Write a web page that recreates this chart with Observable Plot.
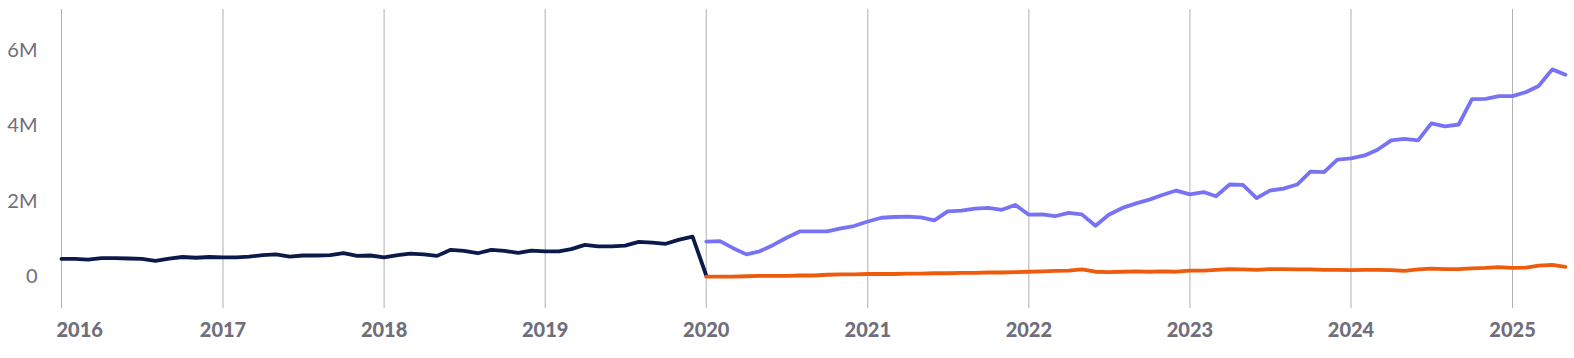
<!DOCTYPE html>
<html><head><meta charset="utf-8">
<script src="https://cdn.jsdelivr.net/npm/d3@7"></script>
<script src="https://cdn.jsdelivr.net/npm/@observablehq/plot@0.6"></script>
<style>body{margin:0;background:#fff}</style>
</head><body><div id="chart"></div>
<script>
// Monthly values, in millions
const navyStart = "2016-01-01";
const navyValues = [
  0.48,0.48,0.46,0.50,0.50,0.49,0.48,0.43,0.49,0.53,0.51,0.53,
  0.52,0.52,0.54,0.58,0.60,0.54,0.57,0.57,0.58,0.63,0.56,0.57,
  0.52,0.58,0.62,0.60,0.56,0.72,0.69,0.63,0.72,0.69,0.64,0.70,
  0.68,0.68,0.74,0.85,0.81,0.81,0.83,0.93,0.91,0.88,0.99,1.07,
  0.04
];
const seriesStart = "2020-01-01";
const purpleValues = [
  0.94,0.95,0.77,0.60,0.68,0.85,1.04,1.21,1.21,1.21,1.29,1.35,
  1.47,1.57,1.59,1.60,1.58,1.50,1.74,1.76,1.81,1.83,1.78,1.91,
  1.65,1.66,1.61,1.70,1.66,1.36,1.65,1.83,1.95,2.05,2.18,2.29,
  2.19,2.25,2.14,2.45,2.44,2.09,2.29,2.34,2.45,2.79,2.78,3.11,
  3.14,3.22,3.37,3.62,3.66,3.62,4.07,3.99,4.04,4.71,4.72,4.79,
  4.79,4.90,5.06,5.50,5.36
];
const orangeValues = [
  0.01,0.01,0.01,0.02,0.03,0.03,0.03,0.04,0.04,0.06,0.07,0.07,
  0.08,0.08,0.08,0.09,0.09,0.10,0.10,0.11,0.11,0.12,0.12,0.13,
  0.14,0.15,0.16,0.17,0.20,0.14,0.13,0.14,0.15,0.14,0.15,0.14,
  0.17,0.17,0.19,0.21,0.20,0.19,0.21,0.21,0.20,0.20,0.19,0.19,
  0.18,0.19,0.19,0.18,0.16,0.20,0.22,0.21,0.21,0.23,0.24,0.26,
  0.24,0.25,0.30,0.32,0.27
];
const seriesNames = ["legacy", "purple", "orange"];
const seriesColors = ["#0b1a4a", "#7773f4", "#ef5b0c"];
const yTicks = [0, 2, 4, 6];
const yTickLabels = ["0", "2M", "4M", "6M"];
const xTickYears = [2016, 2017, 2018, 2019, 2020, 2021, 2022, 2023, 2024, 2025];

function toRows(start, values, series) {
  const s = new Date(start);
  return values.map((v, i) => ({date: d3.utcMonth.offset(s, i), value: v, series}));
}
const rows = [
  ...toRows(navyStart, navyValues, seriesNames[0]),
  ...toRows(seriesStart, purpleValues, seriesNames[1]),
  ...toRows(seriesStart, orangeValues, seriesNames[2])
];
const xTicks = xTickYears.map(y => new Date(Date.UTC(y, 0, 1)));
const lastDate = rows.reduce((m, r) => r.date > m ? r.date : m, rows[0].date);

const labelColor = "#6f6e7b";
const chart = Plot.plot({
  width: 1574, height: 358,
  marginLeft: 61, marginRight: 9, marginTop: 9, marginBottom: 50,
  style: {fontFamily: "Lato, 'Noto Sans', sans-serif", background: "#fff", overflow: "visible"},
  x: {type: "utc", domain: [xTicks[0], lastDate], axis: null},
  y: {domain: [-0.834, 7.086], axis: null},
  color: {domain: seriesNames, range: seriesColors},
  marks: [
    Plot.ruleX(xTicks, {stroke: "#b0b0b0", strokeWidth: 1}),
    Plot.axisY(yTicks, {tickSize: 0, tickPadding: 24, tickFormat: d => yTickLabels[yTicks.indexOf(d)],
      fontSize: 20, fill: labelColor, label: null}),
    Plot.text(xTicks.slice(0, 1), {x: d => d, frameAnchor: "bottom", dy: 28, dx: -5, textAnchor: "start",
      text: d => String(d.getUTCFullYear()), fontSize: 20, fontWeight: 900, fill: labelColor}),
    Plot.text(xTicks.slice(1), {x: d => d, frameAnchor: "bottom", dy: 28,
      text: d => String(d.getUTCFullYear()), fontSize: 20, fontWeight: 900, fill: labelColor}),
    Plot.lineY(rows, {x: "date", y: "value", z: "series", stroke: "series", strokeWidth: 3.8})
  ]
});
document.getElementById("chart").appendChild(chart);
</script>
</body></html>
